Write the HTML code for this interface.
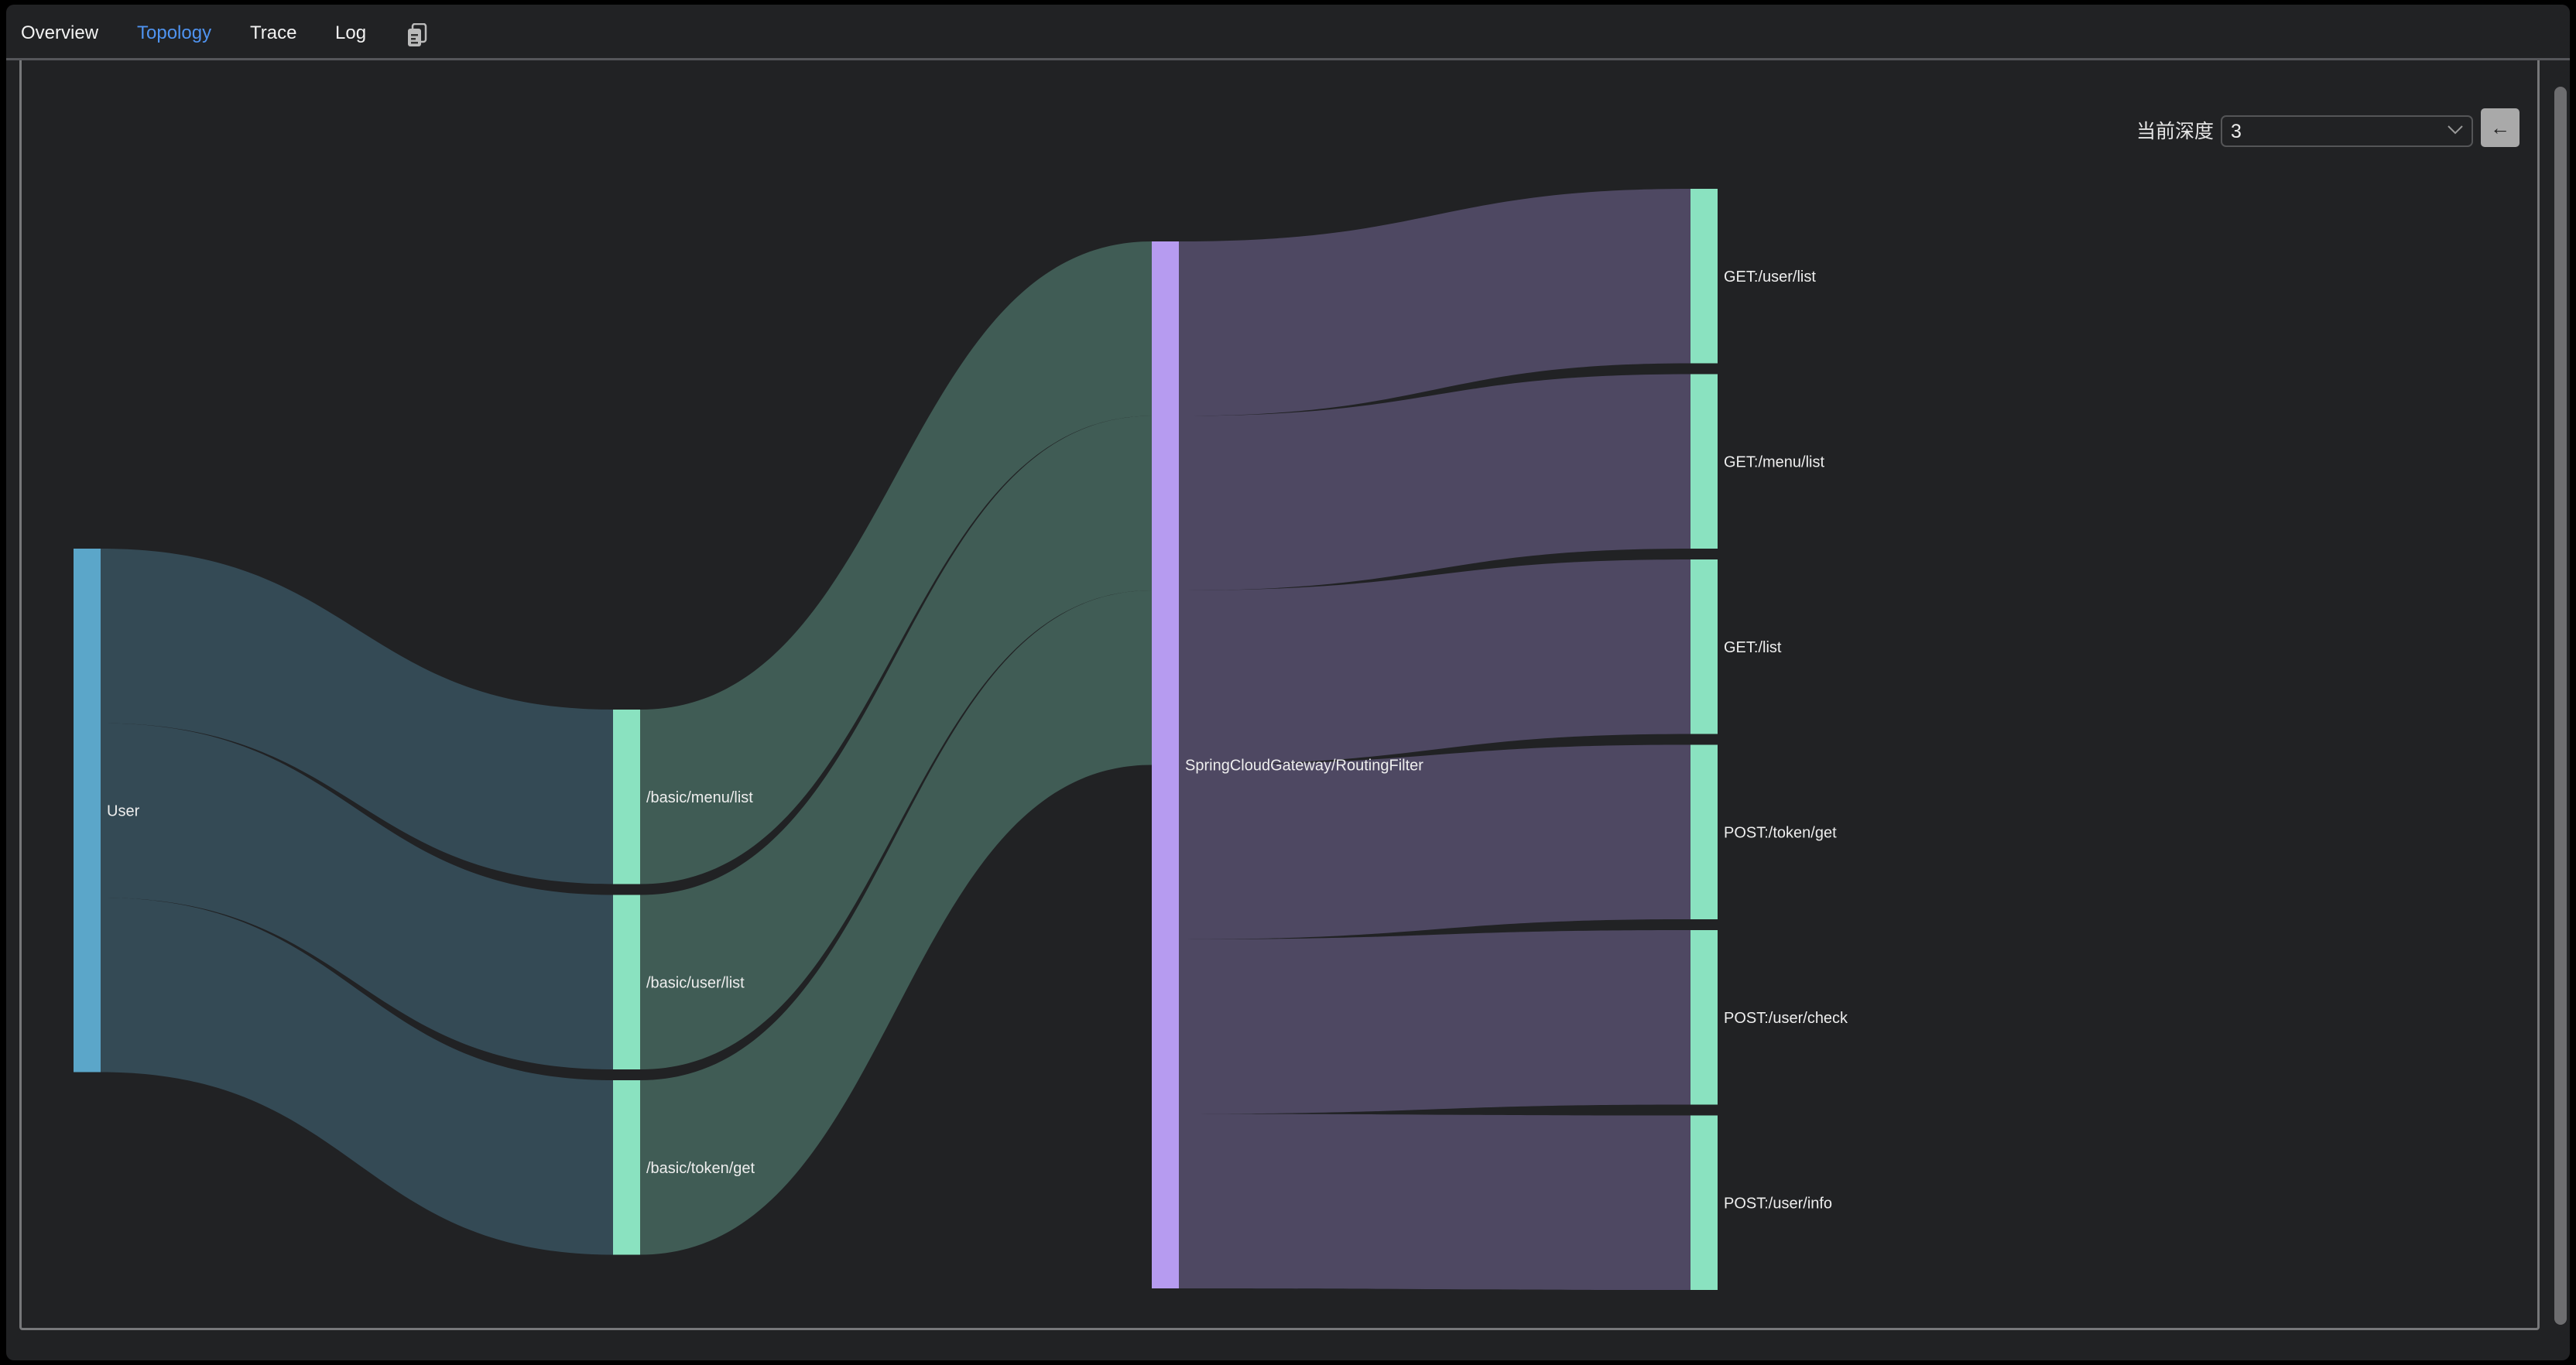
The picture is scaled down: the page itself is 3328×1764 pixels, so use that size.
<!DOCTYPE html>
<html><head><meta charset="utf-8">
<style>
html,body{margin:0;padding:0;background:#000;width:3328px;height:1764px;overflow:hidden;font-family:"Liberation Sans","Noto Sans CJK SC",sans-serif;}
#panel{position:absolute;left:8px;top:6px;width:3312px;height:1752px;background:#212224;border-radius:10px;}
#hdr{position:absolute;left:0;top:0;width:100%;height:69px;border-bottom:3px solid #55565a;}
.tab{position:absolute;top:23px;font-size:24px;color:#f2f2f2;}
#box{position:absolute;left:17px;top:72px;width:3250px;height:1638px;border:3px solid #77787a;border-top:none;border-radius:0 0 4px 4px;}
#scroll{position:absolute;left:3292px;top:106px;width:16px;height:1600px;background:#6d6d6f;border-radius:8px;}
#lbl{position:absolute;left:2760px;top:150px;font-size:25px;color:#e6e6e6;}
#sel{position:absolute;left:2869px;top:149px;width:322px;height:37px;border:2px solid #545557;border-radius:7px;}
#sel span{position:absolute;left:11px;top:5px;font-size:25px;color:#eee;}
#btn{position:absolute;left:3205px;top:140px;width:50px;height:50px;background:#a9a9a9;border-radius:5px;color:#222;font-size:26px;text-align:center;line-height:50px;}
svg{position:absolute;left:0;top:0;}
</style></head><body>
<div id="panel">
 <div id="hdr">
  <div class="tab" style="left:19px">Overview</div>
  <div class="tab" style="left:169px;color:#4f93f0">Topology</div>
  <div class="tab" style="left:315px">Trace</div>
  <div class="tab" style="left:425px">Log</div>
  <svg style="left:516px;top:24px" width="30" height="32" viewBox="0 0 30 32">
   <rect x="9" y="1" width="17" height="23" rx="3" fill="none" stroke="#bbb" stroke-width="2.5"/>
   <rect x="3" y="7" width="17" height="23" rx="3" fill="#bbb"/>
   <rect x="7" y="14" width="9" height="2.5" fill="#333"/><rect x="7" y="19" width="6" height="2.5" fill="#333"/><rect x="7" y="24" width="9" height="2.5" fill="#333"/>
  </svg>
 </div>
 <div id="box"></div>
 <div id="scroll"></div>
</div>
<div id="lbl">当前深度</div>
<div id="sel"><span>3</span>
 <svg style="left:290px;top:10px" width="22" height="14"><polyline points="2,2 11,11 20,2" fill="none" stroke="#999" stroke-width="2"/></svg></div>
<div id="btn">←</div>
<svg id="chart" width="3328" height="1764"></svg>
<script>
const nodeNames = ["User","/basic/menu/list","/basic/user/list","/basic/token/get","SpringCloudGateway/RoutingFilter","GET:/user/list","GET:/menu/list","GET:/list","POST:/token/get","POST:/user/check","POST:/user/info"];
const nodeDepth = [0,1,1,1,2,3,3,3,3,3,3];
const linkSource = [0,0,0,1,2,3,4,4,4,4,4,4];
const linkTarget = [1,2,3,4,4,4,5,6,7,8,9,10];
const linkValue  = [1,1,1,1,1,1,1,1,1,1,1,1];

const nodeColor=["#5ba6c9","#8ae2c0","#8ae2c0","#8ae2c0","#b69bf0","#8ae2c0","#8ae2c0","#8ae2c0","#8ae2c0","#8ae2c0","#8ae2c0"];
const linkColor=["#344a55","#405c55","#405c55","#405c55","#4e4862"];
const colX=[95,792,1488,2184], colTop=[709,917,312,244];
const ky=225.5, nodeW=35, pad=14;
const svg=document.getElementById('chart'), NS="http://www.w3.org/2000/svg";
const N=nodeNames.length;
const inV=new Array(N).fill(0), outV=new Array(N).fill(0);
linkValue.forEach((v,i)=>{outV[linkSource[i]]+=v;inV[linkTarget[i]]+=v;});
const val=nodeNames.map((_,i)=>Math.max(inV[i],outV[i]));
const ny=[], nh=[], cur=colTop.slice();
for(let i=0;i<N;i++){const d=nodeDepth[i];ny[i]=cur[d];nh[i]=val[i]*ky;cur[d]+=nh[i]+pad;}
const so=ny.slice(), to=ny.slice();
const gL=document.createElementNS(NS,'g');svg.appendChild(gL);
linkValue.forEach((v,i)=>{
 const s=linkSource[i],t=linkTarget[i],h=v*ky;
 const x0=colX[nodeDepth[s]]+nodeW,x1=colX[nodeDepth[t]],xm=(x0+x1)/2;
 const y0=so[s],y1=to[t];so[s]+=h;to[t]+=h;
 const p=document.createElementNS(NS,'path');
 p.setAttribute('d',`M${x0},${y0}C${xm},${y0} ${xm},${y1} ${x1},${y1}L${x1},${y1+h}C${xm},${y1+h} ${xm},${y0+h} ${x0},${y0+h}Z`);
 p.setAttribute('fill',linkColor[Math.min(s,4)]);
 
 
 gL.appendChild(p);
});
for(let i=0;i<N;i++){
 const r=document.createElementNS(NS,'rect');
 r.setAttribute('x',colX[nodeDepth[i]]);r.setAttribute('y',ny[i]);r.setAttribute('width',nodeW);r.setAttribute('height',nh[i]);
 r.setAttribute('fill',nodeColor[i]);
 
 
 svg.appendChild(r);
 const tx=document.createElementNS(NS,'text');
 tx.setAttribute('x',colX[nodeDepth[i]]+nodeW+8);tx.setAttribute('y',ny[i]+nh[i]/2+7);
 tx.setAttribute('fill','#eeeeee');tx.setAttribute('font-size','20');
 tx.setAttribute('font-family','Liberation Sans, sans-serif');
 tx.textContent=nodeNames[i];
 
 
 svg.appendChild(tx);
}
</script>
</body></html>
